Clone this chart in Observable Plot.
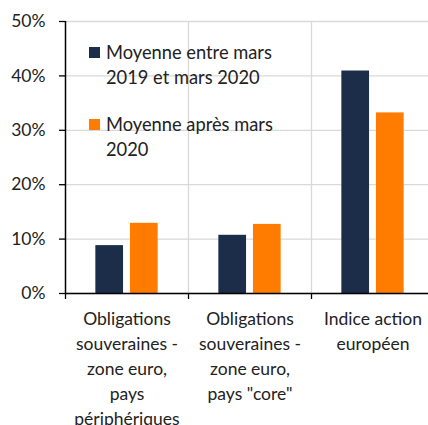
<!DOCTYPE html>
<html>
<head>
<meta charset="utf-8">
<script src="https://cdn.jsdelivr.net/npm/d3@7"></script>
<script src="https://cdn.jsdelivr.net/npm/@observablehq/plot@0.6"></script>
<style>
  html, body { margin: 0; padding: 0; overflow: hidden; background: #fff; }
  #wrap { position: relative; width: 428px; height: 425px; font-family: Lato, "Open Sans", sans-serif; color: #222; }
  .legend { position: absolute; left: 89px; font-size: 18.3px; line-height: 25px; }
  .legend .sw { position: absolute; left: 0; top: 7px; width: 11px; height: 11px; }
  .legend .tx { margin-left: 17px; }
</style>
</head>
<body>
<div id="wrap"></div>
<script>
const categories = ["Obligations souveraines - zone euro, pays périphériques", "Obligations souveraines - zone euro, pays \"core\"", "Indice action européen"];
const tickLabels = ["Obligations\nsouveraines -\nzone euro,\npays\npériphériques", "Obligations\nsouveraines -\nzone euro,\npays \"core\"", "Indice action\neuropéen"];
const series = ["Moyenne entre mars 2019 et mars 2020", "Moyenne après mars 2020"];
const legendLabels = ["Moyenne entre mars\n2019 et mars 2020", "Moyenne après mars\n2020"];
const colors = ["#1b2d48", "#ff7c00"];
const valuesBefore = [8.8, 10.7, 40.9];
const valuesAfter = [12.9, 12.7, 33.2];
const yTicks = [0, 10, 20, 30, 40, 50];

const data = [];
categories.forEach((c, i) => {
  data.push({cat: c, i, series: series[0], value: valuesBefore[i]});
  data.push({cat: c, i, series: series[1], value: valuesAfter[i]});
});

const sub = d3.scaleBand().domain(series).range([-0.5, 0.5]).paddingInner(0.2).paddingOuter(0.877);
const boundaries = [-0.5, 0.5, 1.5];
const centers = categories.map((c, i) => i);

const chart = Plot.plot({
  width: 428,
  height: 425,
  marginLeft: 65,
  marginTop: 21,
  marginBottom: 132,
  marginRight: 0,
  style: {fontFamily: "Lato, 'Open Sans', sans-serif", fontSize: "17.5px", color: "#222", background: "#fff"},
  x: {domain: [-0.5, 2.5], range: [65, 434]},
  y: {domain: [0, 50], range: [293, 21]},
  color: {domain: series, range: colors},
  marks: [
    Plot.gridY(yTicks, {stroke: "#d9d9d9", strokeOpacity: 1, strokeWidth: 1.3}),
    Plot.ruleX([0.5, 1.5], {y1: 0, y2: 50, stroke: "#d9d9d9", strokeWidth: 1.3}),
    Plot.rectY(data, {x1: d => d.i + sub(d.series), x2: d => d.i + sub(d.series) + sub.bandwidth(), y1: 0, y2: "value", fill: "series"}),
    Plot.ruleX([-0.5], {y1: 0, y2: 50, stroke: "#000", strokeWidth: 1.5}),
    Plot.ruleY([0], {stroke: "#000", strokeWidth: 1.5}),
    Plot.axisY(yTicks, {label: null, tickFormat: d => d + "%", tickSize: 6, tickPadding: 14, stroke: "#000", strokeWidth: 1.3, fontSize: 17.5, fill: "#222"}),
    Plot.axisX(boundaries, {label: null, tickSize: 6, tickFormat: () => "", stroke: "#000", strokeWidth: 1.3}),
    Plot.axisX(centers, {label: null, tickSize: 0, tickPadding: 14, tickFormat: i => tickLabels[i], lineHeight: 1.42, fontSize: 17.5, fill: "#222", textOverflow: null})
  ]
});

const wrap = document.getElementById("wrap");
wrap.appendChild(chart);

const tops = [40, 112];
legendLabels.forEach((lab, k) => {
  const el = document.createElement("div");
  el.className = "legend";
  el.style.top = tops[k] + "px";
  const sw = document.createElement("div");
  sw.className = "sw";
  sw.style.background = colors[k];
  const tx = document.createElement("div");
  tx.className = "tx";
  tx.innerHTML = lab.split("\n").join("<br>");
  el.appendChild(sw);
  el.appendChild(tx);
  wrap.appendChild(el);
});
</script>
</body>
</html>
